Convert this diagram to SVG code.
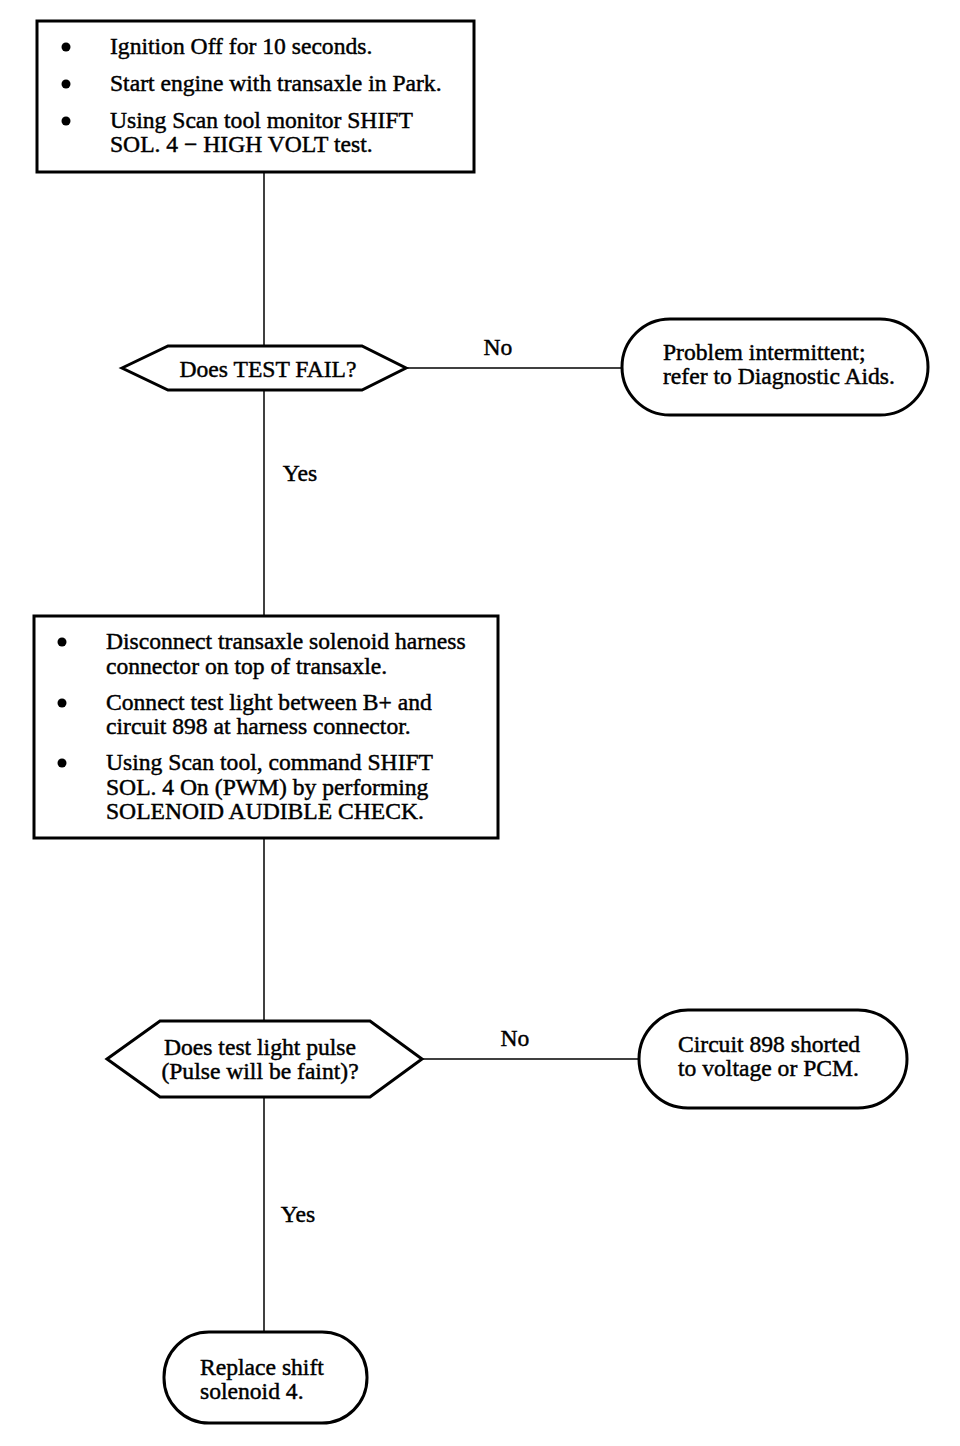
<svg xmlns="http://www.w3.org/2000/svg" width="960" height="1446" viewBox="0 0 960 1446">
<style>
text{font-family:"Liberation Serif","Times New Roman",serif;font-size:23.6px;fill:#000;stroke:#000;stroke-width:0.45}
.box{fill:#fff;stroke:#000;stroke-width:3}
.ln{stroke:#000;stroke-width:1.5;fill:none}
.dot{fill:#000}
</style>
<rect width="960" height="1446" fill="#fff"/>
<g id="connectors">
<line class="ln" x1="264" y1="172" x2="264" y2="347"/>
<line class="ln" x1="406" y1="368" x2="622" y2="368"/>
<line class="ln" x1="264" y1="390" x2="264" y2="616"/>
<line class="ln" x1="264" y1="838" x2="264" y2="1021"/>
<line class="ln" x1="422" y1="1059" x2="639" y2="1059"/>
<line class="ln" x1="264" y1="1097" x2="264" y2="1332"/>
<text x="498" y="355" text-anchor="middle">No</text>
<text x="300" y="481" text-anchor="middle">Yes</text>
<text x="515" y="1046" text-anchor="middle">No</text>
<text x="298" y="1222" text-anchor="middle">Yes</text>
</g>
<g id="step1">
<rect class="box" x="37" y="21" width="437" height="151"/>
<circle class="dot" cx="66" cy="47" r="4.5"/>
<circle class="dot" cx="66" cy="84" r="4.5"/>
<circle class="dot" cx="66" cy="121" r="4.5"/>
<text x="110" y="54">Ignition Off for 10 seconds.</text>
<text x="110" y="91">Start engine with transaxle in Park.</text>
<text x="110" y="128">Using Scan tool monitor SHIFT</text>
<text x="110" y="152">SOL. 4 − HIGH VOLT test.</text>
</g>
<g id="decision1">
<polygon class="box" points="122,368 168,346 362,346 406,368 362,390 168,390"/>
<text x="268" y="377" text-anchor="middle">Does TEST FAIL?</text>
</g>
<g id="result1">
<rect class="box" x="622" y="319" width="306" height="96" rx="48" ry="48"/>
<text x="663" y="360">Problem intermittent;</text>
<text x="663" y="384">refer to Diagnostic Aids.</text>
</g>
<g id="step2">
<rect class="box" x="34" y="616" width="464" height="222"/>
<circle class="dot" cx="62" cy="642" r="4.5"/>
<circle class="dot" cx="62" cy="703" r="4.5"/>
<circle class="dot" cx="62" cy="763" r="4.5"/>
<text x="106" y="649">Disconnect transaxle solenoid harness</text>
<text x="106" y="674">connector on top of transaxle.</text>
<text x="106" y="710">Connect test light between B+ and</text>
<text x="106" y="734">circuit 898 at harness connector.</text>
<text x="106" y="770">Using Scan tool, command SHIFT</text>
<text x="106" y="795">SOL. 4 On (PWM) by performing</text>
<text x="106" y="819">SOLENOID AUDIBLE CHECK.</text>
</g>
<g id="decision2">
<polygon class="box" points="107,1059 160,1021 370,1021 422,1059 370,1097 160,1097"/>
<text x="260" y="1055" text-anchor="middle">Does test light pulse</text>
<text x="260" y="1079" text-anchor="middle">(Pulse will be faint)?</text>
</g>
<g id="result2">
<rect class="box" x="639" y="1010" width="268" height="98" rx="49" ry="49"/>
<text x="678" y="1052">Circuit 898 shorted</text>
<text x="678" y="1076">to voltage or PCM.</text>
</g>
<g id="result3">
<rect class="box" x="164" y="1332" width="203" height="91" rx="45" ry="45"/>
<text x="200" y="1375">Replace shift</text>
<text x="200" y="1399">solenoid 4.</text>
</g>
</svg>
